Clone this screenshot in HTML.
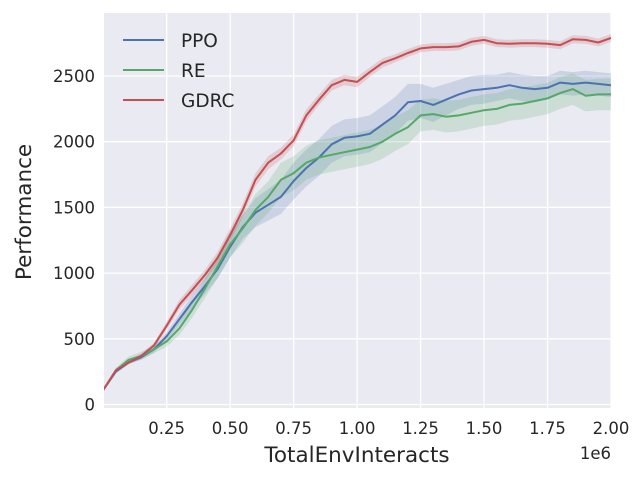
<!DOCTYPE html>
<html><head><meta charset="utf-8"><style>
html,body{margin:0;padding:0;background:#fff;}
svg{display:block;font-family:"DejaVu Sans","Liberation Sans",sans-serif;}
</style></head><body>
<svg id="chart" width="640" height="480" viewBox="0 0 640 480"></svg>
<script>
const xs=[0,0.05,0.1,0.15,0.2,0.25,0.3,0.35,0.4,0.45,0.5,0.55,0.6,0.65,0.7,0.75,0.8,0.85,0.9,0.95,1.0,1.05,1.1,1.15,1.2,1.25,1.3,1.35,1.4,1.45,1.5,1.55,1.6,1.65,1.7,1.75,1.8,1.85,1.9,1.95,2.0];
const ppo=[110,250,320,360,420,520,650,780,900,1030,1200,1350,1460,1520,1580,1700,1800,1880,1980,2030,2040,2060,2130,2200,2300,2310,2280,2320,2360,2390,2400,2410,2430,2410,2400,2410,2450,2440,2450,2440,2430];
const ppoStd=[10,15,15,20,25,30,40,50,60,70,80,90,110,120,130,140,140,140,140,140,140,140,140,140,140,130,130,120,110,110,110,100,100,100,100,90,90,90,90,90,90];
const re=[110,260,340,370,420,480,580,720,880,1050,1220,1340,1480,1580,1710,1760,1840,1880,1900,1920,1940,1960,2000,2060,2110,2200,2210,2190,2200,2220,2240,2250,2280,2290,2310,2330,2370,2400,2350,2360,2360];
const reStd=[10,20,25,30,30,40,50,60,70,90,100,110,120,120,130,130,130,130,130,130,130,130,130,130,130,120,120,120,120,120,120,120,120,120,120,120,120,120,120,120,120];
const gdrc=[110,260,320,370,450,600,760,870,985,1115,1290,1480,1710,1840,1910,2010,2200,2320,2430,2470,2455,2530,2600,2635,2675,2710,2720,2720,2725,2760,2775,2750,2745,2750,2750,2745,2735,2780,2775,2755,2790];
const gdrcStd=[10,15,15,20,20,30,35,40,40,45,50,50,50,50,45,45,45,40,40,40,40,35,35,30,30,30,30,30,30,30,30,30,30,30,30,30,30,30,30,30,30];
const yTicks=[0,500,1000,1500,2000,2500];
const xTicks=[0.25,0.5,0.75,1.0,1.25,1.5,1.75,2.0];
const xTickLabels=["0.25","0.50","0.75","1.00","1.25","1.50","1.75","2.00"];
const legendNames=["PPO","RE","GDRC"];
const colors=["#4c72b0","#55a868","#c44e52"];

const L=104,R=611,T=13,B=408;
const X=v=>103.2+v*253.9;
const Y=v=>404.5-v*0.1314;
const svg=document.getElementById('chart');
const NS='http://www.w3.org/2000/svg';
function mk(tag,attrs,parent){const e=document.createElementNS(NS,tag);for(const k in attrs)e.setAttribute(k,attrs[k]);(parent||svg).appendChild(e);return e;}

const bg=mk('rect',{x:L,y:T,width:R-L,height:B-T,fill:'#eaeaf2'});


yTicks.forEach(v=>{
  const g=mk('line',{x1:L,x2:R,y1:Y(v),y2:Y(v),stroke:'#fff','stroke-width':1.3});
  
  
  const t=mk('text',{x:95,y:Y(v)+6,'text-anchor':'end','font-size':16.5,fill:'#262626'});
  t.textContent=v;
  
  
});
xTicks.forEach((v,i)=>{
  const g=mk('line',{x1:X(v),x2:X(v),y1:T,y2:B,stroke:'#fff','stroke-width':1.3});
  
  
  const t=mk('text',{x:X(v),y:434,'text-anchor':'middle','font-size':16.5,fill:'#262626'});
  t.textContent=xTickLabels[i];
  
  
});
const clip=mk('clipPath',{id:'clip'});mk('rect',{x:L,y:T,width:R-L,height:B-T},clip);
const series=[[ppo,ppoStd],[re,reStd],[gdrc,gdrcStd]];
series.forEach((s,k)=>{
  const [m,sd]=s;
  let up=xs.map((x,i)=>X(x).toFixed(1)+','+Y(m[i]+sd[i]).toFixed(1));
  let dn=xs.map((x,i)=>X(x).toFixed(1)+','+Y(m[i]-sd[i]).toFixed(1)).reverse();
  const band=mk('polygon',{points:up.concat(dn).join(' '),fill:colors[k],'fill-opacity':0.2,'clip-path':'url(#clip)'});
  
  
});
series.forEach((s,k)=>{
  const m=s[0];
  const line=mk('polyline',{points:xs.map((x,i)=>X(x).toFixed(1)+','+Y(m[i]).toFixed(1)).join(' '),fill:'none',stroke:colors[k],'stroke-width':2,'stroke-linejoin':'round','clip-path':'url(#clip)'});
  
  
});
legendNames.forEach((n,k)=>{
  const y=40+k*30;
  const l=mk('line',{x1:123,x2:164,y1:y,y2:y,stroke:colors[k],'stroke-width':2});
  
  
  const t=mk('text',{x:181,y:y+7,'font-size':18.5,fill:'#262626'});
  t.textContent=n;
  
  
});
const xt=mk('text',{x:357,y:462,'text-anchor':'middle','font-size':21.5,fill:'#262626'});
xt.textContent='TotalEnvInteracts';


const off=mk('text',{x:611,y:459,'text-anchor':'end','font-size':16.5,fill:'#262626'});
off.textContent='1e6';


const yt=mk('text',{x:31,y:212,'text-anchor':'middle','font-size':21.5,fill:'#262626',transform:'rotate(-90 31 212)'});
yt.textContent='Performance';


</script>
</body></html>
